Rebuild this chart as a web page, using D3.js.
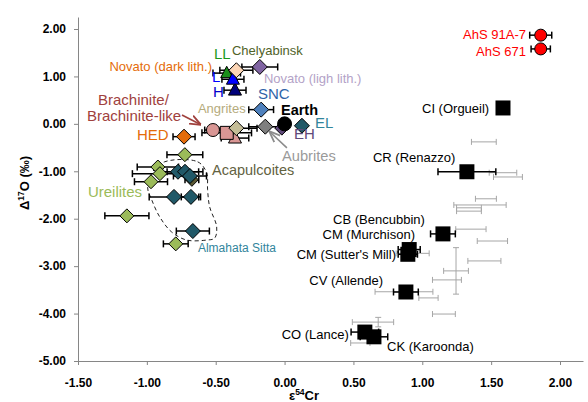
<!DOCTYPE html>
<html>
<head>
<meta charset="utf-8">
<script src="https://cdn.jsdelivr.net/npm/d3@7"></script>
<style>
  body { margin: 0; background: #fff; }
  svg { font-family: "Liberation Sans", Arial, sans-serif; display: block; }
</style>
</head>
<body>
<div id="chart"></div>
<script>
// ---- data (e54Cr, D17O, e54Cr error) ----
const ahsPoints = [
  { name: "AhS 91A-7", x: 1.86, y: 1.87, xe: 0.08 },
  { name: "AhS 671", x: 1.86, y: 1.58, xe: 0.07 }
];
const carbonaceous = [
  { name: "CI (Orgueil)", x: 1.586, y: 0.335, xe: 0.03 },
  { name: "CR (Renazzo)", x: 1.324, y: -1.01, xe: 0.21 },
  { name: "CB (Bencubbin)", x: 1.15, y: -2.32, xe: 0.09 },
  { name: "CM (Murchison)", x: 0.905, y: -2.65, xe: 0.08 },
  { name: "CM (Sutter's Mill)", x: 0.895, y: -2.75, xe: 0.07 },
  { name: "CV (Allende)", x: 0.881, y: -3.545, xe: 0.09 },
  { name: "CO (Lance)", x: 0.583, y: -4.39, xe: 0.1 },
  { name: "CK (Karoonda)", x: 0.649, y: -4.49, xe: 0.1 }
];
const ureilites = [
  { x: -0.724, y: -0.65, xe: 0.13 },
  { x: -0.92, y: -0.91, xe: 0.15 },
  { x: -0.905, y: -1.05, xe: 0.2 },
  { x: -0.97, y: -1.22, xe: 0.12 },
  { x: -1.145, y: -1.94, xe: 0.16 },
  { x: -0.79, y: -2.53, xe: 0.09 }
];
const acapulcoites = [{ x: -0.673, y: -1.18, xe: 0.05 }];
const almahataSitta = [
  { x: -0.774, y: -1.01, xe: 0.15 },
  { x: -0.723, y: -1.01, xe: 0.13 },
  { x: -0.687, y: -1.1, xe: 0.12 },
  { x: -0.803, y: -1.54, xe: 0.18 },
  { x: -0.68, y: -1.54, xe: 0.07 },
  { x: -0.666, y: -2.26, xe: 0.12 }
];
const hed = [{ x: -0.73, y: -0.27, xe: 0.08 }];
const ordinaryLL = [{ x: -0.42, y: 1.07, xe: 0.1 }];
const ordinaryL = [{ x: -0.375, y: 0.94, xe: 0.08 }];
const ordinaryH = [{ x: -0.36, y: 0.71, xe: 0.08 }];
const novatoDark = [{ x: -0.35, y: 1.13, xe: 0.12 }];
const novatoLight = [{ x: -0.18, y: 1.2, xe: 0.13 }];
const snc = [{ x: -0.17, y: 0.3, xe: 0.09 }];
const brachiniteCircle = [{ x: -0.52, y: -0.13, xe: 0.06 }];
const brachiniteTriangle = [{ x: -0.36, y: -0.3, xe: 0.1 }];
const brachiniteSquare = [{ x: -0.42, y: -0.19, xe: 0.18 }];
const angrites = [{ x: -0.35, y: -0.09, xe: 0.15 }];
const aubrites = [{ x: -0.14, y: -0.06, xe: 0.12 }];
const eh = [{ x: -0.02, y: -0.09, xe: 0 }];
const earth = [{ x: 0, y: 0, xe: 0 }];
const el = [{ x: 0.126, y: -0.04, xe: 0 }];

// individual measurements drawn as thin grey error bars only
const greyBars = [
  { x: 1.447, y: -0.38, xe: 0.09, ye: 0 },
  { x: 1.586, y: -1.03, xe: 0.10, ye: 0 },
  { x: 1.622, y: -1.12, xe: 0.105, ye: 0 },
  { x: 1.462, y: -1.58, xe: 0.076, ye: 0 },
  { x: 1.419, y: -1.71, xe: 0.19, ye: 0 },
  { x: 1.339, y: -1.77, xe: 0.09, ye: 0 },
  { x: 1.339, y: -1.84, xe: 0.09, ye: 0 },
  { x: 1.353, y: -2.22, xe: 0.11, ye: 0 },
  { x: 1.509, y: -2.47, xe: 0.11, ye: 0 },
  { x: 1.451, y: -2.89, xe: 0.12, ye: 0 },
  { x: 1.245, y: -3.10, xe: 0.09, ye: 0.49 },
  { x: 1.179, y: -3.29, xe: 0.105, ye: 0 },
  { x: 1.045, y: -3.67, xe: 0.07, ye: 0 },
  { x: 1.157, y: -4.01, xe: 0.083, ye: 0 },
  { x: 0.867, y: -3.54, xe: 0.21, ye: 0 },
  { x: 0.93, y: -2.73, xe: 0.12, ye: 0 },
  { x: 0.642, y: -4.18, xe: 0.15, ye: 0 },
  { x: 0.68, y: -4.18, xe: 0, ye: 0.1 },
  { x: 0.55, y: -4.62, xe: 0.07, ye: 0 }
];

// dashed outline around the Almahata Sitta group
const almahataOutline = [
  [-0.871, -0.80], [-0.631, -0.80], [-0.566, -1.03], [-0.559, -1.39],
  [-0.544, -1.75], [-0.493, -2.17], [-0.508, -2.41], [-0.566, -2.45],
  [-0.711, -2.45], [-0.820, -2.28], [-0.907, -1.96], [-0.965, -1.60],
  [-0.994, -1.35], [-0.958, -1.01]
];

const xTicks = [-1.5, -1, -0.5, 0, 0.5, 1, 1.5, 2];
const yTicks = [-5, -4, -3, -2, -1, 0, 1, 2];

// ---- layout ----
const width = 588;
const height = 402;

const svg = d3.select("#chart")
  .append("svg")
  .attr("width", width)
  .attr("height", height);

const x = d3.scaleLinear().domain([-1.5, 2.167]).range([78, 583]);
const y = d3.scaleLinear().domain([-5, 2.253]).range([361, 17]);

// axes
const xAxis = svg.append("g")
  .attr("transform", `translate(0,${y(-5)})`)
  .call(d3.axisBottom(x).tickValues(xTicks).tickSize(4).tickSizeOuter(0)
    .tickPadding(13).tickFormat(d => d.toFixed(2)));
const yAxis = svg.append("g")
  .attr("transform", `translate(${x(-1.5)},0)`)
  .call(d3.axisLeft(y).tickValues(yTicks).tickSize(4).tickSizeOuter(0)
    .tickPadding(8).tickFormat(d => d.toFixed(2)));

[xAxis, yAxis].forEach(g => {
  g.select(".domain").attr("stroke", "#868686");
  g.selectAll(".tick line").attr("stroke", "#868686");
  g.selectAll(".tick text")
    .attr("fill", "#000")
    .style("font-size", "12px")
    .style("font-weight", "bold")
    .style("font-family", "'Liberation Sans', Arial, sans-serif");
});

// axis titles
const yTitle = svg.append("text")
  .attr("transform", "translate(29,183) rotate(-90)")
  .attr("text-anchor", "middle")
  .style("font-size", "13px")
  .style("font-weight", "bold");
yTitle.append("tspan").text("\u0394");
yTitle.append("tspan").attr("dy", -5).style("font-size", "8.5px").text("17");
yTitle.append("tspan").attr("dy", 5).text("O (\u2030)");

const xTitle = svg.append("text")
  .attr("x", 304)
  .attr("y", 400)
  .attr("text-anchor", "middle")
  .style("font-size", "13px")
  .style("font-weight", "bold");
xTitle.append("tspan").text("\u03b5");
xTitle.append("tspan").attr("dy", -5).style("font-size", "8.5px").text("54");
xTitle.append("tspan").attr("dy", 5).text("Cr");

// grey individual bars
const greyG = svg.append("g").attr("stroke", "#a6a6a6").attr("stroke-width", 1);
greyBars.forEach(d => {
  if (d.xe > 0) {
    greyG.append("line").attr("x1", x(d.x - d.xe)).attr("x2", x(d.x + d.xe))
      .attr("y1", y(d.y)).attr("y2", y(d.y));
    [d.x - d.xe, d.x + d.xe].forEach(v => greyG.append("line")
      .attr("x1", x(v)).attr("x2", x(v)).attr("y1", y(d.y) - 3).attr("y2", y(d.y) + 3));
  }
  if (d.ye > 0) {
    greyG.append("line").attr("x1", x(d.x)).attr("x2", x(d.x))
      .attr("y1", y(d.y - d.ye)).attr("y2", y(d.y + d.ye));
    [d.y - d.ye, d.y + d.ye].forEach(v => greyG.append("line")
      .attr("x1", x(d.x) - 3).attr("x2", x(d.x) + 3).attr("y1", y(v)).attr("y2", y(v)));
  }
});

// dashed outline
svg.append("path")
  .datum(almahataOutline)
  .attr("d", d3.line().x(d => x(d[0])).y(d => y(d[1])).curve(d3.curveCatmullRomClosed))
  .attr("fill", "none")
  .attr("stroke", "#222")
  .attr("stroke-width", 1)
  .attr("stroke-dasharray", "4,3");

// marker shapes
function diamond(r) { return `M0,${-r}L${r},0L0,${r}L${-r},0Z`; }
function square(s) { return `M${-s / 2},${-s / 2}h${s}v${s}h${-s}Z`; }
function triangle(s) { const h = s * 0.95; return `M0,${-h * 0.6}L${s / 2},${h * 0.4}L${-s / 2},${h * 0.4}Z`; }
function circle(r) { return `M${r},0A${r},${r} 0 1,1 ${-r},0A${r},${r} 0 1,1 ${r},0Z`; }

// drawing order: back to front
const groups = [
  { data: ureilites, shape: diamond(7), fill: "#9bbb59" },
  { data: acapulcoites, shape: diamond(6.5), fill: "#5a5833" },
  { data: almahataSitta, shape: diamond(7.5), fill: "#215968" },
  { data: hed, shape: diamond(7.5), fill: "#e46c0a" },
  { data: novatoLight, shape: diamond(7.5), fill: "#8064a2" },
  { data: ordinaryLL, shape: triangle(12), fill: "#1a8f1a" },
  { data: ordinaryH, shape: triangle(13), fill: "#00007a" },
  { data: ordinaryL, shape: triangle(13), fill: "#0000ff" },
  { data: novatoDark, shape: diamond(7.5), fill: "#fcd5b5" },
  { data: snc, shape: diamond(7.5), fill: "#4f81bd" },
  { data: brachiniteCircle, shape: circle(6.5), fill: "#d99694" },
  { data: brachiniteTriangle, shape: triangle(13), fill: "#d99694" },
  { data: brachiniteSquare, shape: square(13), fill: "#d99694" },
  { data: angrites, shape: diamond(7.5), fill: "#c4bd97" },
  { data: aubrites, shape: diamond(7.5), fill: "#7f7f7f" },
  { data: eh, shape: diamond(7), fill: "#5f497a" },
  { data: earth, shape: circle(7), fill: "#000" },
  { data: el, shape: diamond(7.5), fill: "#215968" },
  { data: carbonaceous, shape: square(15), fill: "#000", stroke: "none" },
  { data: ahsPoints, shape: circle(6), fill: "#ff0000" }
];

// black error bars
const errG = svg.append("g").attr("stroke", "#000").attr("stroke-width", 1.5);
groups.forEach(g => g.data.forEach(d => {
  if (!d.xe) return;
  errG.append("line").attr("x1", x(d.x - d.xe)).attr("x2", x(d.x + d.xe))
    .attr("y1", y(d.y)).attr("y2", y(d.y));
  [d.x - d.xe, d.x + d.xe].forEach(v => errG.append("line")
    .attr("x1", x(v)).attr("x2", x(v)).attr("y1", y(d.y) - 3.5).attr("y2", y(d.y) + 3.5));
}));

// markers
groups.forEach(g => {
  svg.append("g").selectAll("path")
    .data(g.data)
    .enter().append("path")
    .attr("d", g.shape)
    .attr("transform", d => `translate(${x(d.x)},${y(d.y)})`)
    .attr("fill", g.fill)
    .attr("stroke", g.stroke || "#000")
    .attr("stroke-width", 1);
});

// arrows
const defs = svg.append("defs");
function arrowHead(id, color) {
  defs.append("marker")
    .attr("id", id).attr("viewBox", "0 0 10 10").attr("refX", 9).attr("refY", 5)
    .attr("markerWidth", 7).attr("markerHeight", 7).attr("orient", "auto-start-reverse")
    .append("path").attr("d", "M0,1L10,5L0,9").attr("fill", "none")
    .attr("stroke", color).attr("stroke-width", 1.6);
}
arrowHead("arrBrach", "#a0413d");
arrowHead("arrAub", "#8c8c8c");
const arrows = [
  { from: [-0.745, 0.188], to: [-0.614, -0.01], color: "#a0413d", id: "arrBrach" },
  { from: [0.017, -0.508], to: [-0.106, -0.171], color: "#8c8c8c", id: "arrAub" }
];
arrows.forEach(a => svg.append("line")
  .attr("x1", x(a.from[0])).attr("y1", y(a.from[1]))
  .attr("x2", x(a.to[0])).attr("y2", y(a.to[1]))
  .attr("stroke", a.color).attr("stroke-width", 1.6)
  .attr("marker-end", `url(#${a.id})`));

// labels (anchored in data coordinates)
const labels = [
  { t: "AhS 91A-7", x: 1.753, y: 1.79, a: "end", c: "#ff0000", s: 13 },
  { t: "AhS 671", x: 1.753, y: 1.432, a: "end", c: "#ff0000", s: 13 },
  { t: "CI (Orgueil)", x: 0.998, y: 0.23, a: "start", c: "#000", s: 13 },
  { t: "CR (Renazzo)", x: 0.642, y: -0.803, a: "start", c: "#000", s: 13 },
  { t: "CB (Bencubbin)", x: 1.019, y: -2.105, a: "end", c: "#000", s: 13 },
  { t: "CM (Murchison)", x: 0.947, y: -2.43, a: "end", c: "#000", s: 13 },
  { t: "CM (Sutter's Mill)", x: 0.809, y: -2.848, a: "end", c: "#000", s: 13 },
  { t: "CV (Allende)", x: 0.715, y: -3.397, a: "end", c: "#000", s: 13 },
  { t: "CO (Lance)", x: 0.467, y: -4.536, a: "end", c: "#000", s: 13 },
  { t: "CK (Karoonda)", x: 0.744, y: -4.789, a: "start", c: "#000", s: 13 },
  { t: "Novato (dark lith.)", x: -0.527, y: 1.115, a: "end", c: "#e46c0a", s: 13 },
  { t: "LL", x: -0.513, y: 1.368, a: "start", c: "#1a9a1a", s: 15 },
  { t: "Chelyabinsk", x: -0.382, y: 1.453, a: "start", c: "#4f6228", s: 13 },
  { t: "L", x: -0.527, y: 0.884, a: "start", c: "#0000ff", s: 15 },
  { t: "H", x: -0.52, y: 0.567, a: "start", c: "#0000cc", s: 15 },
  { t: "Novato (ligh lith.)", x: -0.15, y: 0.858, a: "start", c: "#b3a2c7", s: 13 },
  { t: "SNC", x: -0.193, y: 0.525, a: "start", c: "#2f64a8", s: 15 },
  { t: "Brachinite/", x: -1.355, y: 0.399, a: "start", c: "#a0413d", s: 15 },
  { t: "Brachinite-like", x: -1.435, y: 0.061, a: "start", c: "#a0413d", s: 15 },
  { t: "Angrites", x: -0.629, y: 0.23, a: "start", c: "#b5ab7d", s: 13 },
  { t: "Earth", x: -0.026, y: 0.188, a: "start", c: "#000", s: 14.5, b: true },
  { t: "EL", x: 0.221, y: -0.086, a: "start", c: "#31859c", s: 15 },
  { t: "HED", x: -1.072, y: -0.339, a: "start", c: "#e46c0a", s: 15 },
  { t: "EH", x: 0.068, y: -0.318, a: "start", c: "#60497a", s: 15 },
  { t: "Aubrites", x: -0.019, y: -0.782, a: "start", c: "#9a9a9a", s: 14.7 },
  { t: "Acapulcoites", x: -0.527, y: -1.077, a: "start", c: "#63623f", s: 14.5 },
  { t: "Ureilites", x: -1.428, y: -1.541, a: "start", c: "#9bbb59", s: 15 },
  { t: "Almahata Sitta", x: -0.629, y: -2.701, a: "start", c: "#31859c", s: 12 }
];

svg.append("g").selectAll("text")
  .data(labels)
  .enter().append("text")
  .attr("x", d => x(d.x))
  .attr("y", d => y(d.y))
  .attr("text-anchor", d => d.a)
  .attr("fill", d => d.c)
  .style("font-size", d => d.s + "px")
  .style("font-weight", d => d.b ? "bold" : "normal")
  .text(d => d.t);
</script>
</body>
</html>
